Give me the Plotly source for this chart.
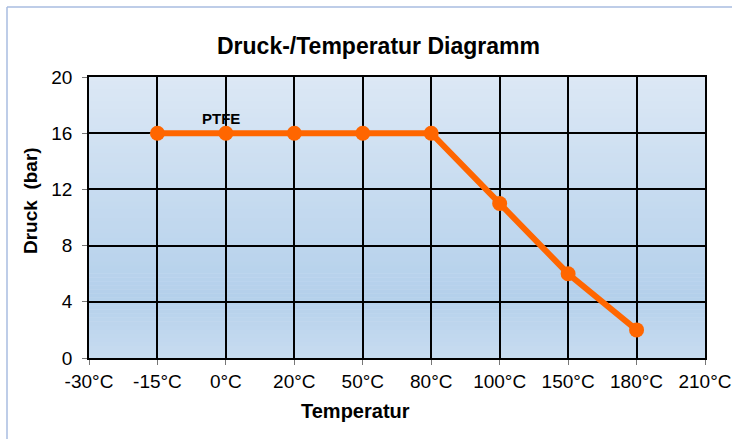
import plotly.graph_objects as go

categories = ["-30°C", "-15°C", "0°C", "20°C", "50°C", "80°C", "100°C", "150°C", "180°C", "210°C"]
temps = ["-15°C", "0°C", "20°C", "50°C", "80°C", "100°C", "150°C", "180°C"]
druck = [16, 16, 16, 16, 16, 11, 6, 2]
y_ticks = [0, 4, 8, 12, 16, 20]

W, H = 732, 439
ML, MR, MT, MB = 89, 27, 77, 81
PW, PH = W - ML - MR, H - MT - MB

def px_x(p):
    return (p - ML) / PW

def px_y(p):
    return (H - MB - p) / PH

fig = go.Figure()
fig.add_trace(go.Scatter(
    x=temps, y=druck, mode="lines+markers",
    line=dict(color="#ff6600", width=6),
    marker=dict(color="#ff6600", size=15),
    showlegend=False, cliponaxis=False,
))

# gradient background
stops = [(0.0, (200, 220, 240)), (0.22, (180, 208, 235)), (1.0, (220, 232, 245))]
def col(t):
    for (a, ca), (b, cb) in zip(stops[:-1], stops[1:]):
        if a <= t <= b:
            f = (t - a) / (b - a)
            c = [round(ca[i] + (cb[i] - ca[i]) * f) for i in range(3)]
            return "rgb(%d,%d,%d)" % tuple(c)
    return "rgb(%d,%d,%d)" % stops[-1][1]

shapes = []
N = 70
for i in range(N):
    y0 = i / N
    y1 = (i + 1) / N
    shapes.append(dict(type="rect", xref="x domain", yref="y domain",
                       x0=0, x1=1, y0=y0, y1=y1 + 0.002,
                       fillcolor=col((y0 + y1) / 2), line=dict(width=0), layer="below"))

# outer chart frame (light blue)
bc = "#a9bde0"
shapes.append(dict(type="line", xref="paper", yref="paper",
                   x0=px_x(7), x1=px_x(7), y0=px_y(7), y1=px_y(H + 5),
                   line=dict(color=bc, width=1.5)))
shapes.append(dict(type="line", xref="paper", yref="paper",
                   x0=px_x(7), x1=px_x(W + 5), y0=px_y(7), y1=px_y(7),
                   line=dict(color=bc, width=1.5)))

font = "Arial, 'Liberation Sans', sans-serif"
annotations = [
    dict(text="<b>Druck-/Temperatur Diagramm</b>", xref="paper", yref="paper",
         x=px_x(378), y=px_y(46), showarrow=False, xanchor="center", yanchor="middle",
         font=dict(size=23, color="black", family=font)),
    dict(text="<b>Temperatur</b>", xref="paper", yref="paper",
         x=px_x(355), y=px_y(411), showarrow=False, xanchor="center", yanchor="middle",
         font=dict(size=20, color="black", family=font)),
    dict(text="<b>Druck  (bar)</b>", xref="paper", yref="paper",
         x=px_x(30), y=px_y(201), showarrow=False, xanchor="center", yanchor="middle",
         textangle=-90, font=dict(size=19, color="black", family=font)),
    dict(text="<b>PTFE</b>", xref="paper", yref="paper",
         x=px_x(221), y=px_y(118), showarrow=False, xanchor="center", yanchor="middle",
         font=dict(size=15, color="black", family=font)),
]

fig.update_layout(
    width=W, height=H,
    margin=dict(l=ML, r=MR, t=MT, b=MB, autoexpand=False),
    paper_bgcolor="white",
    plot_bgcolor="rgba(0,0,0,0)",
    shapes=shapes,
    annotations=annotations,
    font=dict(family=font, color="black"),
    xaxis=dict(type="category", categoryorder="array", categoryarray=categories,
               tickvals=categories, ticktext=categories,
               range=[0, len(categories) - 1], automargin=False,
               showgrid=True, gridcolor="black", gridwidth=1.5,
               showline=True, linecolor="black", linewidth=1.5, mirror=True,
               ticks="outside", ticklen=5, tickcolor="#777", tickwidth=1,
               tickfont=dict(size=19, color="black"), zeroline=False, fixedrange=True),
    yaxis=dict(range=[0, 20], tickvals=y_ticks, automargin=False,
               showgrid=True, gridcolor="black", gridwidth=1.5,
               showline=True, linecolor="black", linewidth=1.5, mirror=True,
               ticks="outside", ticklen=5, tickcolor="#777", tickwidth=1,
               ticklabelstandoff=6,
               tickfont=dict(size=19, color="black"), zeroline=False, fixedrange=True),
)

fig.write_html("out.html", config={"displayModeBar": False},
               post_script="document.body.style.margin='0';document.body.style.overflow='hidden';")
